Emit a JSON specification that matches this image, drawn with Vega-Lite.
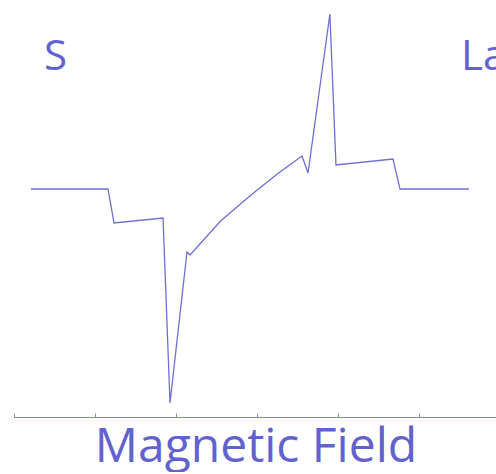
{
  "$schema": "https://vega.github.io/schema/vega-lite/v6.json",
  "width": 483,
  "height": 417,
  "padding": {"left": 13, "top": 0, "right": 0, "bottom": 0},
  "background": "white",
  "config": {"view": {"stroke": null}, "font": "Open Sans"},
  "datasets": {
    "curve": [
      {"field": 0.21, "signal": 0},
      {"field": 1.16, "signal": 0},
      {"field": 1.235, "signal": -3.4},
      {"field": 1.84, "signal": -2.9},
      {"field": 1.926, "signal": -21.4},
      {"field": 2.136, "signal": -6.3},
      {"field": 2.173, "signal": -6.6},
      {"field": 2.55, "signal": -3.2},
      {"field": 2.926, "signal": -0.6},
      {"field": 3.25, "signal": 1.5},
      {"field": 3.556, "signal": 3.3},
      {"field": 3.63, "signal": 1.6},
      {"field": 3.90, "signal": 17.5},
      {"field": 3.975, "signal": 2.4},
      {"field": 4.679, "signal": 3.0},
      {"field": 4.765, "signal": 0},
      {"field": 5.617, "signal": 0}
    ],
    "labels": [
      {"field": 0.37, "signal": 11.9, "label": "S"},
      {"field": 5.52, "signal": 11.9, "label": "La"}
    ]
  },
  "layer": [
    {
      "data": {"name": "curve"},
      "mark": {"type": "line", "color": "#6f6fd2", "strokeWidth": 1.3},
      "encoding": {
        "x": {
          "field": "field", "type": "quantitative",
          "scale": {"domain": [0, 5.963], "nice": false, "zero": false},
          "axis": {
            "title": "Magnetic Field",
            "titleFontSize": 48,
            "titleFontWeight": "normal",
            "titleColor": "#6262cf",
            "titleFont": "Open Sans",
            "titlePadding": 6,
            "labels": false,
            "grid": false,
            "values": [0, 1, 2, 3, 4, 5],
            "tickSize": -4,
            "tickColor": "#8a8ad6",
            "domainColor": "#8080d6",
            "domainWidth": 1.2
          }
        },
        "y": {
          "field": "signal", "type": "quantitative",
          "scale": {"domain": [-22.8, 18.9], "nice": false, "zero": false},
          "axis": null
        }
      }
    },
    {
      "data": {"name": "labels"},
      "mark": {"type": "text", "align": "left", "baseline": "alphabetic", "fontSize": 42, "font": "Open Sans", "color": "#6262cf"},
      "encoding": {
        "x": {"field": "field", "type": "quantitative"},
        "y": {"field": "signal", "type": "quantitative"},
        "text": {"field": "label"}
      }
    }
  ]
}
